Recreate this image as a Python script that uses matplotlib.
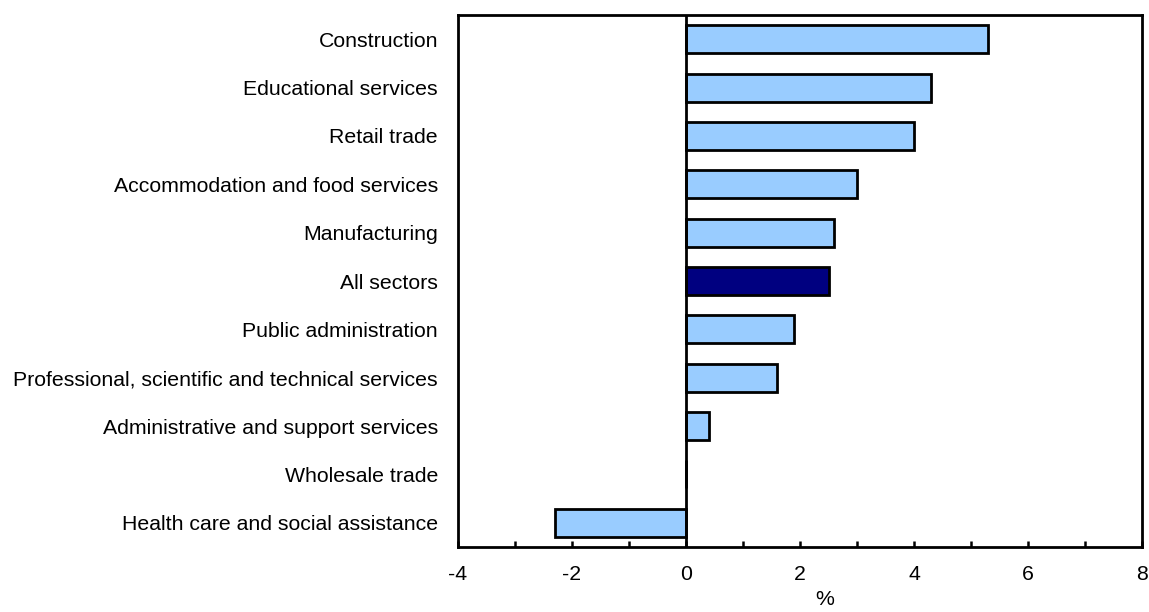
import matplotlib
matplotlib.use("Agg")
import matplotlib.pyplot as plt

categories = [
    "Construction",
    "Educational services",
    "Retail trade",
    "Accommodation and food services",
    "Manufacturing",
    "All sectors",
    "Public administration",
    "Professional, scientific and technical services",
    "Administrative and support services",
    "Wholesale trade",
    "Health care and social assistance",
]
values = [5.3, 4.3, 4.0, 3.0, 2.6, 2.5, 1.9, 1.6, 0.4, 0.0, -2.3]
highlight = "All sectors"
xticks = [-4, -2, 0, 2, 4, 6, 8]

plt.rcParams['font.family'] = ['Liberation Sans', 'DejaVu Sans']

fig = plt.figure(figsize=(11.49, 6.12), dpi=100)
ax = fig.add_axes([458/1149, 65/612, (1142-458)/1149, (547-15)/612])

n = len(categories)
ypos = list(range(n))
colors = ['#000080' if c == highlight else '#99CCFF' for c in categories]
ax.barh(ypos, values, height=0.58, color=colors, edgecolor='black', linewidth=2.0, zorder=2)
ax.axvline(0, color='black', linewidth=2.0, zorder=3)

ax.set_ylim(n - 0.5, -0.5)
ax.set_xlim(-4, 8)
ax.set_yticks(ypos)
ax.set_yticklabels(categories, fontsize=15.3)
ax.set_xticks(xticks)
ax.set_xticklabels([str(t) for t in xticks], fontsize=15.3)
ax.set_xticks([-3, -1, 1, 3, 5, 7], minor=True)
ax.tick_params(axis='y', length=0, pad=14.4)
ax.tick_params(axis='x', which='both', direction='in', length=4, width=1.8, pad=13, top=False)
for s in ax.spines.values():
    s.set_linewidth(2.0)

fig.text(825/1149, 3/612, "%", ha='center', va='bottom', fontsize=15.3)

fig.savefig("out.png", dpi=100)
